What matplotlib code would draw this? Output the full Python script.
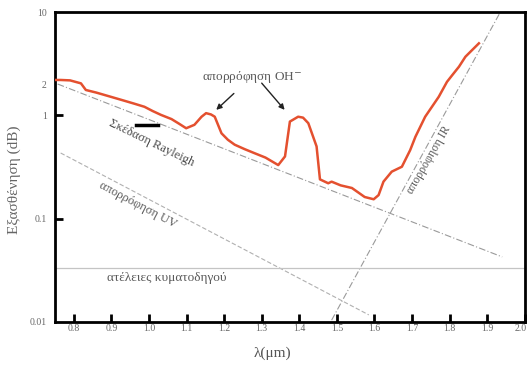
import matplotlib
matplotlib.use('Agg')
import matplotlib.pyplot as plt
import matplotlib.transforms as mtransforms
import numpy as np

plt.rcParams['font.family'] = ['Liberation Serif', 'DejaVu Serif']

# measured attenuation curve (red)
wavelength = [0.752, 0.765, 0.790, 0.819, 0.832, 0.860, 0.899, 0.930, 0.960, 0.988,
              1.010, 1.032, 1.060, 1.080, 1.099, 1.121, 1.140, 1.152, 1.165, 1.175,
              1.193, 1.210, 1.228, 1.255, 1.281, 1.310, 1.344, 1.362, 1.375, 1.397,
              1.410, 1.424, 1.446, 1.455, 1.477, 1.486, 1.510, 1.540, 1.574, 1.598,
              1.611, 1.624, 1.646, 1.673, 1.695, 1.709, 1.735, 1.753, 1.771, 1.793,
              1.807, 1.825, 1.842, 1.860, 1.878]
attenuation = [2.20, 2.20, 2.18, 2.04, 1.76, 1.66, 1.51, 1.40, 1.30, 1.21,
               1.10, 1.01, 0.92, 0.83, 0.75, 0.81, 0.97, 1.05, 1.02, 0.97,
               0.67, 0.58, 0.52, 0.47, 0.43, 0.39, 0.33, 0.40, 0.87, 0.97,
               0.95, 0.84, 0.50, 0.24, 0.22, 0.228, 0.21, 0.198, 0.162, 0.154,
               0.169, 0.228, 0.285, 0.318, 0.46, 0.62, 0.97, 1.21, 1.51, 2.11,
               2.45, 2.96, 3.69, 4.29, 4.98]

# asymptotic loss mechanisms (end points)
rayleigh_x = [0.757, 1.940]
rayleigh_y = [2.01, 0.0426]
uv_x = [0.765, 1.585]
uv_y = [0.432, 0.0117]
ir_x = [1.486, 1.935]
ir_y = [0.0104, 10.0]
waveguide_level = 0.033

xticks = [0.8, 0.9, 1.0, 1.1, 1.2, 1.3, 1.4, 1.5, 1.6, 1.7, 1.8, 1.9, 2.0]
xtick_labels = ['0.8', '0.9', '1.0', '1.1', '1.2', '1.3', '1.4', '1.5', '1.6', '1.7', '1.8', '1.9', '2.0']

fig = plt.figure(figsize=(5.29, 3.65), dpi=100)
ax = fig.add_axes([0.104, 0.118, 0.888, 0.849])

txtColor = '#5a5a5a'
lineGrey = '#9a9a9a'

ax.plot(rayleigh_x, rayleigh_y, color=lineGrey, linewidth=0.8, dashes=(6, 2, 1, 2))
ax.plot(uv_x, uv_y, color='#b0b0b0', linewidth=0.8, dashes=(4, 2))
ax.plot(ir_x, ir_y, color=lineGrey, linewidth=0.8, dashes=(6, 2, 1, 2))
ax.axhline(waveguide_level, color='#c4c4c4', linewidth=0.9)

ax.plot(wavelength, attenuation, color='#e4502f', linewidth=1.8, zorder=5)

# labels on the plot
ax.annotate('απορρόφηση OH$^{-}$', xy=(1.179, 1.13), xytext=(1.273, 2.35),
            ha='center', va='center', fontsize=9.5, color=txtColor,
            arrowprops=dict(arrowstyle='-|>', color='#222222', lw=1.0,
                            shrinkA=6, shrinkB=0, mutation_scale=8))
ax.annotate('', xy=(1.361, 1.13), xytext=(1.300, 2.05),
            arrowprops=dict(arrowstyle='-|>', color='#222222', lw=1.0,
                            shrinkA=0, shrinkB=0, mutation_scale=8))
ax.text(1.006, 0.54, 'Σκέδαση Rayleigh', rotation=-26, ha='center', va='center',
        rotation_mode='anchor', fontsize=9, color='#4a4a4a')
ax.plot([0.966, 1.024], [0.81, 0.81], color='black', linewidth=2.5)
ax.text(0.971, 0.136, 'απορρόφηση UV', rotation=-28, ha='center', va='center',
        rotation_mode='anchor', fontsize=9, color=txtColor)
ax.text(1.046, 0.0267, 'ατέλειες κυματοδηγού', ha='center', va='center',
        fontsize=9.5, color=txtColor)
ax.text(1.745, 0.37, 'απορρόφηση IR', rotation=60, ha='center', va='center',
        rotation_mode='anchor', fontsize=8.5, color=txtColor)

ax.set_yscale('log')
ax.set_xlim(0.75, 2.0)
ax.set_ylim(0.01, 10)

ax.set_xticks(xticks)
ax.set_xticklabels(xtick_labels)
ax.set_yticks([0.1, 1])
ax.set_yticklabels(['0.1', '1'])
ax.set_yticks([0.01, 2, 10], minor=True)
ax.set_yticklabels(['0.01', '2', '10'], minor=True)

ax.tick_params(axis='x', direction='in', length=6, width=2, color='black',
               labelsize=7, labelcolor='#666666', pad=1.5)
ax.tick_params(axis='y', which='major', direction='in', length=6, width=2,
               color='black', labelsize=7, labelcolor='#666666', pad=6)
ax.tick_params(axis='y', which='minor', length=0, labelsize=7,
               labelcolor='#666666', pad=6)

# last x label sits on the right frame, pull it in a little
lastLbl = ax.get_xticklabels()[-1]
lastLbl.set_transform(lastLbl.get_transform() +
                      mtransforms.ScaledTranslation(-4 / 100, 0, fig.dpi_scale_trans))

for s in ['left', 'right', 'top', 'bottom']:
    ax.spines[s].set_linewidth(2)
    ax.spines[s].set_color('black')

ax.set_xlabel('λ(μm)', fontsize=11, color='#555555')
ax.xaxis.set_label_coords(0.462, -0.078)
ax.set_ylabel('Εξασθένηση (dB)', fontsize=11, color='#666666')
ax.yaxis.set_label_coords(-0.072, 0.46)

plt.savefig('out.png', dpi=100)
